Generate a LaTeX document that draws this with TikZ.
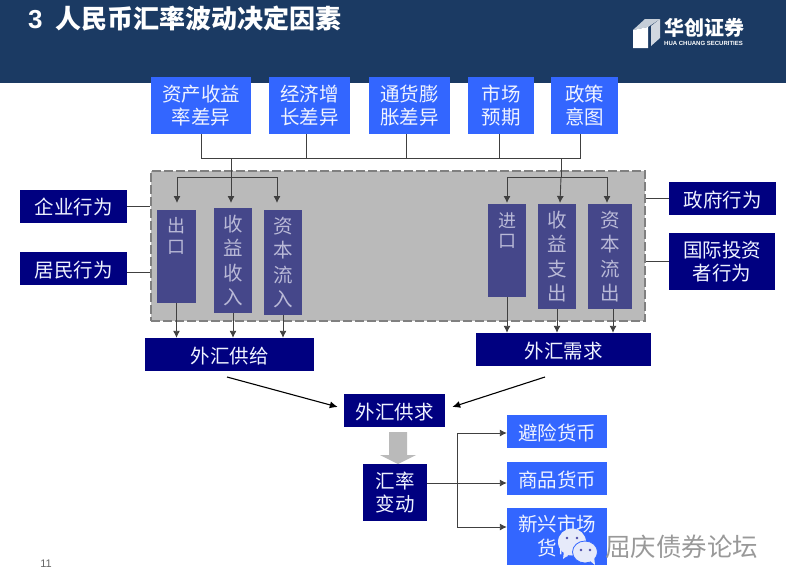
\documentclass[tikz,border=0pt]{standalone}
\usepackage{fontspec}
\setmainfont{Noto Sans CJK SC}
\newfontfamily\latinfont{Liberation Sans}
\usepackage{xcolor}
\usetikzlibrary{
	arrows.meta,
	calc,
	positioning
}
\definecolor{HeadNavy}{RGB}{27,58,99}
\definecolor{BoxBlue}{RGB}{51,102,255}
\definecolor{BoxNavy}{RGB}{0,0,128}
\definecolor{BoxSlate}{RGB}{69,71,138}
\definecolor{SlateText}{RGB}{185,185,215}
\definecolor{PanelGray}{RGB}{186,186,186}
\definecolor{BubbleTint}{RGB}{230,234,250}
\tikzset{
	basebox/.style={inner sep=0pt, align=center, font=\fontsize{19.5}{23.5}\selectfont, execute at begin node={\rule{0pt}{19pt}}},
	bluebox/.style={basebox, fill=BoxBlue, text=white!92!BoxBlue},
	navybox/.style={basebox, fill=BoxNavy, text=white!92!BoxBlue},
	slatebox/.style={basebox, fill=BoxSlate, text=SlateText, font=\fontsize{19.5}{24.5}\selectfont},
	shortbox/.style={slatebox, font=\fontsize{18}{20.5}\selectfont},
	linkline/.style={line width=0.9pt, draw=black!75},
	linkarrow/.style={linkline, -{Latex[length=7pt,width=7pt]}}
}
\begin{document}
\begin{tikzpicture}[x=1pt, y=-1pt]
	\useasboundingbox (0,0) rectangle (786,587);
	\fill[HeadNavy] (0,0) rectangle (786,83);
	\node[text=white, anchor=west, inner sep=0pt, font=\bfseries\fontsize{26}{30}\selectfont] (title) at (28,19) {{\latinfont 3}\hspace{12.5pt}人民币汇率波动决定因素};

	\fill[white!75!HeadNavy] (633,30) -- (645,19) -- (660,19) -- (648,27) -- cycle;
	\fill[white] (633,30) -- (648,27) -- (648,48) -- (633,48) -- cycle;
	\fill[white!80!HeadNavy] (651,26) -- (660,19) -- (660,38) -- (651,46) -- cycle;
	\node[text=white, anchor=west, inner sep=0pt, font=\bfseries\fontsize{20}{22}\selectfont] (logoname) at (664,28) {华创证券};
	\node[text=white, anchor=west, inner sep=0pt, font=\latinfont\bfseries\fontsize{6}{7}\selectfont] (logosub) at (664,43) {HUA CHUANG SECURITIES};

	\node[fill=PanelGray, draw=black!50, line width=1.6pt, dash pattern=on 9pt off 3pt, minimum width=494pt, minimum height=150pt, inner sep=0pt] (panel) at (398,246) {};

	\node[bluebox, minimum width=100pt, minimum height=57pt] (yield) at (201,105.5) {资产收益\\率差异};
	\node[bluebox, minimum width=81pt, minimum height=57pt] (growth) at (309.5,105.5) {经济增\\长差异};
	\node[bluebox, minimum width=81pt, minimum height=57pt] (inflation) at (409.5,105.5) {通货膨\\胀差异};
	\node[bluebox, minimum width=66pt, minimum height=57pt] (expect) at (501,105.5) {市场\\预期};
	\node[bluebox, minimum width=67pt, minimum height=57pt] (policy) at (584.5,105.5) {政策\\意图};

	\coordinate (busleft) at (201,158);
	\coordinate (busright) at (580,158);
	\coordinate (splitleft) at (231,177);
	\coordinate (splitright) at (561,177);
	\draw[linkline] (yield.south) -- (busleft) -- (busright) -- ([xshift=-4.5pt]policy.south);
	\draw[linkline] ([xshift=-3.5pt]growth.south) -- ([xshift=-3.5pt]growth.south |- busleft);
	\draw[linkline] ([xshift=-3.5pt]inflation.south) -- ([xshift=-3.5pt]inflation.south |- busleft);
	\draw[linkline] ([xshift=-2pt]expect.south) -- ([xshift=-2pt]expect.south |- busleft);
	\draw[linkline] (splitleft |- busleft) -- (splitleft);
	\draw[linkline] (splitright |- busleft) -- (splitright);

	\node[shortbox, minimum width=39pt, minimum height=93pt] (export) at (176.5,256) {出\\口\\~\\~};
	\node[slatebox, minimum width=38pt, minimum height=105pt] (incomein) at (233,260.5) {收\\益\\收\\入};
	\node[slatebox, minimum width=38pt, minimum height=105pt] (capin) at (283,262.5) {资\\本\\流\\入};
	\node[shortbox, minimum width=38pt, minimum height=93pt] (import) at (507,250.5) {进\\口\\~\\~};
	\node[slatebox, minimum width=38pt, minimum height=105pt] (incomeout) at (557,256.5) {收\\益\\支\\出};
	\node[slatebox, minimum width=44pt, minimum height=105pt] (capout) at (610,256.5) {资\\本\\流\\出};

	\coordinate (tipa) at (177,203);
	\coordinate (tipb) at (231,203);
	\coordinate (tipc) at (277,203);
	\coordinate (tipd) at (507,203);
	\coordinate (tipe) at (560,203);
	\coordinate (tipf) at (607,203);
	\draw[linkarrow] (splitleft) -- (tipb);
	\draw[linkarrow] (splitleft) -- (tipa |- splitleft) -- (tipa);
	\draw[linkarrow] (splitleft) -- (tipc |- splitleft) -- (tipc);
	\draw[linkarrow] (splitright) -- (tipe);
	\draw[linkarrow] (splitright) -- (tipd |- splitright) -- (tipd);
	\draw[linkarrow] (splitright) -- (tipf |- splitright) -- (tipf);

	\node[navybox, minimum width=169pt, minimum height=33pt] (supply) at (229.5,354.5) {外汇供给};
	\node[navybox, minimum width=175pt, minimum height=33pt] (demand) at (563.5,349.5) {外汇需求};
	\draw[linkarrow] (export.south) -- (export.south |- supply.north);
	\draw[linkarrow] (incomein.south) -- (incomein.south |- supply.north);
	\draw[linkarrow] (capin.south) -- (capin.south |- supply.north);
	\draw[linkarrow] (import.south) -- (import.south |- demand.north);
	\draw[linkarrow] (incomeout.south) -- (incomeout.south |- demand.north);
	\draw[linkarrow] ([xshift=3pt]capout.south) -- ([xshift=3pt]capout.south |- demand.north);

	\node[navybox, minimum width=107pt, minimum height=33pt] (firm) at (73.5,206) {企业行为};
	\node[navybox, minimum width=107pt, minimum height=33pt] (resident) at (73.5,268.5) {居民行为};
	\node[navybox, minimum width=107pt, minimum height=33pt] (gov) at (722.5,198.5) {政府行为};
	\node[navybox, minimum width=106pt, minimum height=57pt] (investor) at (722,261.5) {国际投资\\者行为};
	\draw[linkline] (firm.east) -- (firm.east -| panel.west);
	\draw[linkline] ([yshift=-4pt]resident.east) -- ([yshift=-4pt]resident.east -| panel.west);
	\draw[linkline] (gov.west) -- (gov.west -| panel.east);
	\draw[linkline] (investor.west) -- (investor.west -| panel.east);

	\node[navybox, minimum width=101pt, minimum height=33pt] (balance) at (394.5,410.5) {外汇供求};
	\node[navybox, minimum width=64pt, minimum height=57pt] (rate) at (395,492.5) {汇率\\变动};
	\coordinate (fromsupply) at (227,377);
	\coordinate (fromdemand) at (545,377);
	\draw[line width=1.1pt, -{Latex[length=8pt,width=7pt]}] (fromsupply) -- ([xshift=-6pt,yshift=3.5pt]balance.west);
	\draw[line width=1.1pt, -{Latex[length=8pt,width=7pt]}] (fromdemand) -- ([xshift=7pt,yshift=3.5pt]balance.east);
	\fill[PanelGray] (389,432) -- (407,432) -- (407,455) -- (416,455) -- (398,464) -- (380,455) -- (389,455) -- cycle;

	\node[bluebox, minimum width=100pt, minimum height=33pt] (haven) at (557,431.5) {避险货币};
	\node[bluebox, minimum width=100pt, minimum height=33pt] (commodity) at (557,478.5) {商品货币};
	\node[bluebox, minimum width=100pt, minimum height=57pt] (emerging) at (557,536) {新兴市场\\货币};
	\coordinate (railtop) at (457,433);
	\coordinate (railmid) at (457,483);
	\coordinate (railend) at (457,527);
	\draw[linkline] (railtop) -- (railend);
	\draw[linkline] (rate.east |- railmid) -- (railmid);
	\draw[linkarrow] (railtop) -- (railtop -| haven.west);
	\draw[linkarrow] (railmid) -- (railmid -| commodity.west);
	\draw[linkarrow] (railend) -- (railend -| emerging.west);

	\node[text=black!60, anchor=center, inner sep=0pt, font=\latinfont\fontsize{11}{13}\selectfont] (pageno) at (46,563.5) {11};

	\fill[BubbleTint] (572,542) ellipse (14pt and 13.5pt);
	\fill[BubbleTint] (564,551) -- (563,559) -- (571,553) -- cycle;
	\draw[BoxBlue, line width=0.8pt, fill=BubbleTint] (585,552) ellipse (12.5pt and 11pt);
	\fill[BubbleTint] (589,560) -- (595,565) -- (594,556) -- cycle;
	\fill[BoxNavy!70] (567,538) circle (1.4pt) (577,538) circle (1.4pt) (581,550) circle (1.3pt) (590,550) circle (1.3pt);
	\node[text=black!40, anchor=west, inner sep=0pt, font=\fontsize{25.5}{28}\selectfont] (mark) at (605,547) {屈庆债券论坛};
\end{tikzpicture}
\end{document}
